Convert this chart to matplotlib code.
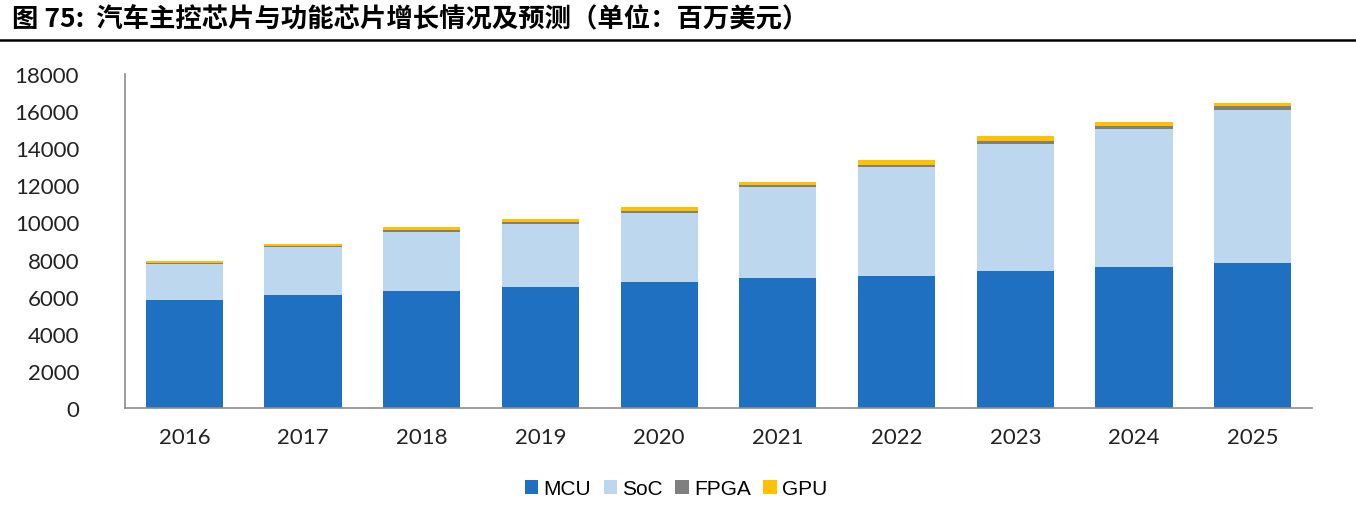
import matplotlib
matplotlib.use("Agg")
import matplotlib.pyplot as plt
import numpy as np

years = ["2016", "2017", "2018", "2019", "2020", "2021", "2022", "2023", "2024", "2025"]
mcu  = [5800, 6100, 6300, 6500, 6800, 7000, 7130, 7400, 7620, 7820]
soc  = [1980, 2550, 3200, 3420, 3700, 4920, 5860, 6830, 7420, 8230]
fpga = [60, 70, 90, 100, 110, 120, 130, 170, 170, 200]
gpu  = [90, 110, 150, 160, 200, 150, 240, 240, 190, 210]
series_names = ["MCU", "SoC", "FPGA", "GPU"]
colors = ["#1F70C1", "#BDD7EE", "#7F7F7F", "#FFC000"]
yticks = [0, 2000, 4000, 6000, 8000, 10000, 12000, 14000, 16000, 18000]

W, H = 1356, 506
fig = plt.figure(figsize=(W/100, H/100), dpi=100)
ax = fig.add_axes([125/W, 1-409/H, (1312-125)/W, (409-75)/H])

x = np.arange(len(years))
bottom = np.zeros(len(years))
for name, vals, c in zip(series_names, [mcu, soc, fpga, gpu], colors):
    ax.bar(x, vals, width=0.65, bottom=bottom, color=c, label=name, linewidth=0)
    bottom += np.array(vals)

ax.set_xlim(-0.5, len(years)-0.5)
ax.set_ylim(0, 18000)
ax.set_yticks(yticks)
ax.set_yticklabels([str(v) for v in yticks], fontfamily="Lato", fontsize=16, color="#222222")
ax.set_xticks(x)
ax.set_xticklabels(years, fontfamily="Lato", fontsize=16, color="#222222")
ax.tick_params(axis="y", length=0, pad=33)
ax.tick_params(axis="x", length=0, pad=14)
for s in ["top", "right"]:
    ax.spines[s].set_visible(False)
for s in ["left", "bottom"]:
    ax.spines[s].set_color("#8C8C8C")
    ax.spines[s].set_linewidth(1.2)

leg = fig.legend(loc="center", bbox_to_anchor=(676/W, 1-490/H), ncol=4, frameon=False,
                 handlelength=0.65, handleheight=0.65, handletextpad=0.25, columnspacing=0.6,
                 prop={"family": ["Liberation Sans Narrow", "Liberation Sans"], "size": 15})

fig.text(12/W, 1-20/H, "图 75:  汽车主控芯片与功能芯片增长情况及预测（单位：百万美元）",
         fontfamily=["Noto Sans CJK SC", "DejaVu Sans"], fontweight="bold", fontsize=19,
         va="center", ha="left", color="black")
fig.add_artist(plt.Line2D([0, 1], [1-41/H, 1-41/H], color="black", linewidth=1.8,
                          transform=fig.transFigure))

fig.savefig("out.png", dpi=100)
